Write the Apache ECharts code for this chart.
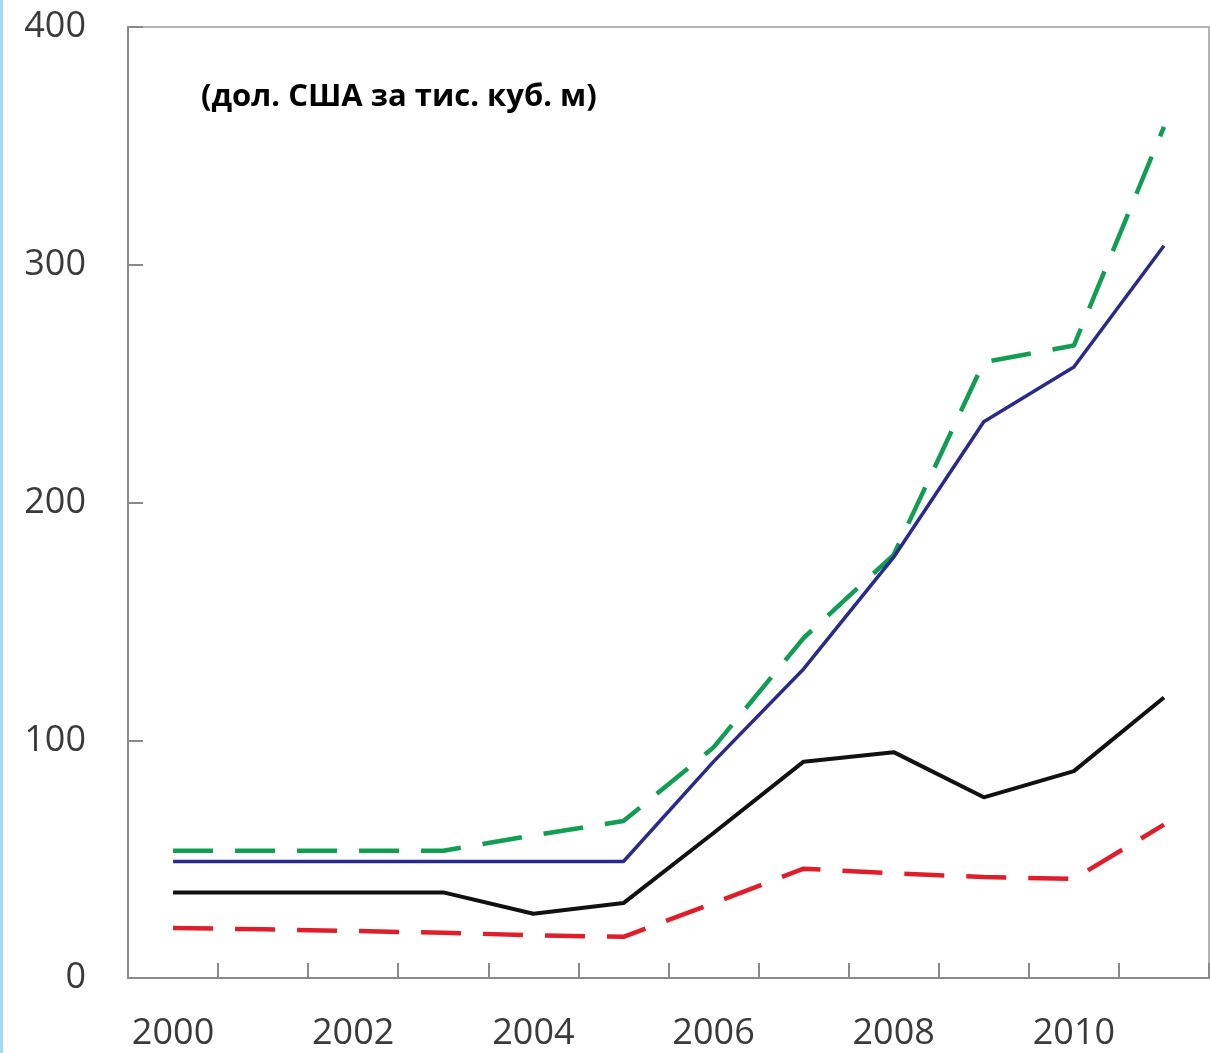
<!DOCTYPE html>
<html>
<head>
<meta charset="utf-8">
<script src="https://cdn.jsdelivr.net/npm/echarts@6/dist/echarts.min.js"></script>
<style>
html,body{margin:0;padding:0;background:#fff;}
#chart{width:1210px;height:1053px;}
</style>
</head>
<body>
<div id="chart"></div>
<script>
const years = ['2000','2001','2002','2003','2004','2005','2006','2007','2008','2009','2010','2011'];
const blueSolid = [49, 49, 49, 49, 49, 49, 91, 130, 177, 234, 257, 308];
const greenDashed = [53.5, 53.5, 53.5, 53.5, 60, 66, 97, 143, 178, 259, 266, 358];
const blackSolid = [36, 36, 36, 36, 27, 31.5, 61, 91, 95, 76, 87, 118];
const redDashed = [21, 20.5, 19.8, 19, 18, 17.3, 31.5, 46, 44, 42.5, 41.7, 64.5];
const yTicks = [0, 100, 200, 300, 400];
const unitText = '(дол. США за тис. куб. м)';

const chart = echarts.init(document.getElementById('chart'), null, {renderer: 'canvas'});
const labelFont = '"Open Sans", "Liberation Sans", sans-serif';

chart.setOption({
  animation: false,
  backgroundColor: '#ffffff',
  grid: {
    left: 128, right: 1, top: 27, bottom: 75,
    show: true, borderColor: '#b4b4b4', borderWidth: 2, backgroundColor: 'transparent'
  },
  xAxis: {
    type: 'category',
    data: years,
    boundaryGap: true,
    axisLine: {show: true, lineStyle: {color: '#8a8a8a', width: 2}},
    axisTick: {show: true, inside: true, length: 15, interval: 0, lineStyle: {color: '#8a8a8a', width: 2}},
    axisLabel: {interval: 1, margin: 38, fontSize: 36, color: '#3a3a3a', fontFamily: labelFont},
    splitLine: {show: false}
  },
  yAxis: {
    type: 'value',
    min: yTicks[0], max: yTicks[yTicks.length - 1], interval: 100,
    axisLine: {show: true, lineStyle: {color: '#8a8a8a', width: 2}},
    axisTick: {show: true, inside: true, length: 15, lineStyle: {color: '#8a8a8a', width: 2}},
    axisLabel: {margin: 42, fontSize: 36, color: '#3a3a3a', fontFamily: labelFont, padding: [7, 0, 0, 0]},
    splitLine: {show: false}
  },
  graphic: [
    {type: 'rect', left: 0, top: 0, shape: {width: 3, height: 1053}, style: {fill: '#a9d5f7'}, z: 10},
    {type: 'text', left: 201, top: 82, style: {text: unitText, font: 'bold 31px "Open Sans", sans-serif', fill: '#000'}, z: 10}
  ],
  series: [
    {type: 'line', data: greenDashed, symbol: 'none', lineStyle: {color: '#129d55', width: 4.5, type: [40, 22], cap: 'butt'}},
    {type: 'line', data: blueSolid, symbol: 'none', lineStyle: {color: '#2a2a8c', width: 3.5}},
    {type: 'line', data: blackSolid, symbol: 'none', lineStyle: {color: '#111111', width: 4}},
    {type: 'line', data: redDashed, symbol: 'none', lineStyle: {color: '#e01e2a', width: 4.5, type: [40, 22], cap: 'butt'}}
  ]
});
</script>
</body>
</html>
